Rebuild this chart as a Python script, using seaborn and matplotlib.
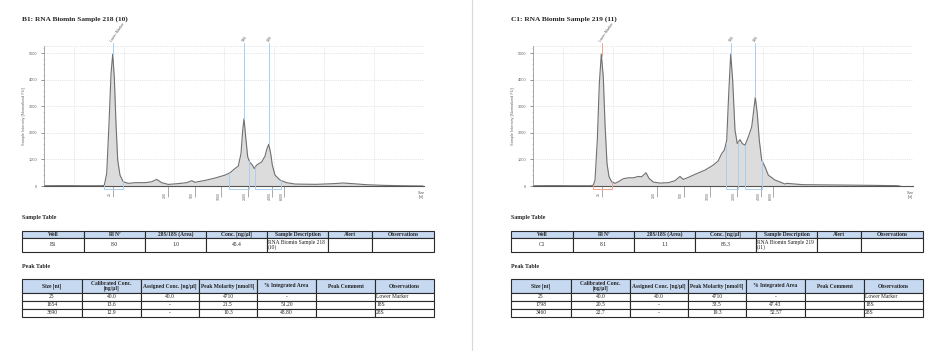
import matplotlib
matplotlib.use("Agg")
import matplotlib.pyplot as plt
import numpy as np
import seaborn as sns
from matplotlib.patches import Rectangle
from matplotlib.transforms import ScaledTranslation

# electropherogram traces: lane position vs intensity (normalized FU)
b1_pos = [0, 20, 40, 58, 60.3, 62.7, 65, 67, 68.7, 70.3, 72, 73.7, 76, 79.3, 84.3, 91, 101, 107.7,
          112.7, 117.7, 124.3, 134.3, 142.7, 147.7, 151, 161, 171, 181, 186, 191, 194.3, 197, 198.7,
          200, 201.7, 203.7, 206, 207.7, 210.3, 212.7, 217.7, 221, 223, 224.7, 226.7, 228.3, 231, 236,
          242.7, 251, 256, 272.4, 289, 299, 309, 322, 339, 356, 379]
b1_fu = [10, 15, 10, 10, 25, 475, 2350, 4225, 4975, 4100, 2350, 975, 410, 160, 100, 125, 125, 160,
         250, 125, 60, 90, 125, 200, 140, 210, 300, 410, 500, 660, 750, 1225, 2100,
         2540, 1850, 1100, 875, 825, 660, 790, 910, 1125, 1410, 1575, 1225, 790, 410, 225,
         125, 75, 70, 63, 88, 113, 88, 50, 25, 12, 0]

c1_pos = [0, 20, 40, 58, 60.3, 62, 64.3, 66.3, 68.3, 70.3, 72, 74, 76, 78.7, 82, 85.3, 90.3, 95.3,
          100.3, 105.3, 108.7, 113, 116, 120.3, 127, 135.3, 142, 147, 150.3, 155.3, 162, 172, 180.3,
          185.3, 188.7, 191.3, 193.7, 195.7, 197.7, 199.7, 202, 204.3, 207, 209.3, 212, 215.3, 218.7,
          220.7, 222.3, 224.3, 226.3, 228.7, 232, 235.3, 242, 252, 253.7, 270, 303.7, 337, 363.7, 367]
c1_fu = [10, 15, 10, 10, 30, 225, 1725, 3850, 4975, 4100, 2350, 850, 350, 160, 100, 160, 275, 310,
         310, 360, 350, 500, 290, 150, 110, 125, 200, 360, 250, 325, 440, 600, 790,
         950, 1225, 1350, 1725, 3475, 4975, 3975, 2100, 1600, 1750, 1600, 1540, 1850, 2225,
         2850, 3350, 2725, 1725, 975, 725, 410, 225, 75, 100, 50, 38, 25, 12, 0]

size_tick_pos = [68.7, 123.7, 150.7, 177, 203.7, 228.3, 240.3]
size_tick_labels = ['25', '200', '500', '1000', '2000', '4000', '6000']

peak_names = ['Lower Marker', '18S', '28S']
b1_peak_pos = [68.5, 200, 224.5]
c1_peak_pos = [68.5, 197.8, 222.3]
b1_regions = [(60, 79), (185.3, 205.3), (211.3, 236.7)]
c1_regions = [(59.7, 78.7), (193, 205.3), (211.8, 228.7)]

sample_cols = ['Well', 'RIN$^e$', '28S/18S (Area)', 'Conc. [ng/µl]', 'Sample Description', 'Alert', 'Observations']
b1_sample_row = ['B1', '8.0', '1.0', '45.4', 'RNA Biomin Sample 218\n(10)', '', '']
c1_sample_row = ['C1', '8.1', '1.1', '85.3', 'RNA Biomin Sample 219\n(11)', '', '']

peak_cols = ['Size [nt]', 'Calibrated Conc.\n[ng/µl]', 'Assigned Conc. [ng/µl]', 'Peak Molarity [nmol/l]',
             '% Integrated Area', 'Peak Comment', 'Observations']
b1_peak_rows = [['25', '40.0', '40.0', '4710', '-', '', 'Lower Marker'],
                ['1654', '13.6', '-', '21.5', '51.20', '', '18S'],
                ['3690', '12.9', '-', '10.3', '48.80', '', '28S']]
c1_peak_rows = [['25', '40.0', '40.0', '4710', '-', '', 'Lower Marker'],
                ['1798', '20.5', '-', '33.5', '47.43', '', '18S'],
                ['3460', '22.7', '-', '19.3', '52.57', '', '28S']]

sns.set_theme(style="white")
plt.rcParams['font.family'] = ['Liberation Serif', 'DejaVu Serif']
plt.rcParams['mathtext.fontset'] = 'stix'

W, H = 941, 351
YTOP = 5280
fig = plt.figure(figsize=(W / 100, H / 100), dpi=100)
bg = fig.add_axes([0, 0, 1, 1])
bg.set_xlim(0, W)
bg.set_ylim(H, 0)
bg.axis('off')
bg.plot([472, 472], [0, H], color='#d8d8d8', lw=0.8)

sans = ['Liberation Sans', 'DejaVu Sans']


def draw_table(x0, cols_x, rows_y, header, rows, left_cols):
    for r in range(len(rows_y) - 1):
        for c in range(len(cols_x) - 1):
            x, y = x0 + cols_x[c], rows_y[r]
            w, h = cols_x[c + 1] - cols_x[c], rows_y[r + 1] - rows_y[r]
            fc = '#c6d9f1' if r == 0 else 'white'
            bg.add_patch(Rectangle((x, y), w, h, facecolor=fc, edgecolor='#2a2a2a', lw=0.8))
            txt = header[c] if r == 0 else rows[r - 1][c]
            if r > 0 and c in left_cols:
                bg.text(x + 1, y + h / 2, txt, ha='left', va='center', fontsize=4,
                        linespacing=0.9, color='#222')
            else:
                bg.text(x + w / 2, y + h / 2, txt, ha='center', va='center', fontsize=4,
                        linespacing=0.9, color='#222', fontweight='bold' if r == 0 else 'normal')


def draw_page(x0, title, pos, fu, peaks, regions, lm_color, sample_row, peak_rows):
    bg.text(x0 + 22, 21, title, fontsize=5.3, fontweight='bold', va='baseline')
    bg.text(x0 + 22, 217, 'Sample Table', fontsize=4.3, fontweight='bold', va='center')
    bg.text(x0 + 22, 266, 'Peak Table', fontsize=4.3, fontweight='bold', va='center')
    bg.text(x0 + 421, 191, 'Size\n[nt]', fontsize=2.6, family=sans, color='#555',
            ha='center', va='top', linespacing=1.0)
    draw_table(x0, [22, 84, 145, 206, 267, 328, 372, 434], [231, 238, 252],
               sample_cols, [sample_row], [4])
    draw_table(x0, [22, 82, 141, 199, 257, 316, 375, 434], [279, 293, 301, 309, 317],
               peak_cols, peak_rows, [6])

    ax = fig.add_axes([(x0 + 44) / W, 1 - 186 / H, 380 / W, 140 / H])
    ax.set_facecolor('none')
    ax.set_xlim(0, 380)
    ax.set_ylim(0, YTOP)
    for gx in range(30, 381, 50):
        ax.plot([gx, gx], [0, YTOP], ls=(0, (2, 2)), color='#d0d0d0', lw=0.4, zorder=0)
    for gy in [1000, 2000, 3000, 4000, 5000, YTOP]:
        ax.plot([0, 380], [gy, gy], ls=(0, (2, 2)), color='#d0d0d0', lw=0.4, zorder=0, clip_on=False)

    ax.fill_between(pos, fu, color='#dcdcdc', lw=0, zorder=1)
    sns.lineplot(x=pos, y=fu, ax=ax, color='#707070', lw=0.8, zorder=2)

    for i, (a, b) in enumerate(regions):
        col = lm_color if i == 0 else '#a9cff2'
        ya, yb = np.interp(a, pos, fu), np.interp(b, pos, fu)
        ax.plot([a, a, b, b], [ya, -130, -130, yb], color=col, lw=0.7, clip_on=False, zorder=3)
    for i, (p, name) in enumerate(zip(peaks, peak_names)):
        col = lm_color if i == 0 else '#a9cff2'
        ax.plot([p, p], [np.interp(p, pos, fu), YTOP + 120], color=col, lw=0.7,
                clip_on=False, zorder=3)
        ax.text(p - 1, YTOP + 170, name, rotation=55, rotation_mode='anchor', ha='left',
                va='center', fontsize=2.6, family=sans, color='#555')

    sns.despine(ax=ax, top=True, right=True)
    ax.spines['left'].set_color('#999')
    ax.spines['left'].set_linewidth(0.6)
    ax.spines['bottom'].set_color('#555')
    ax.spines['bottom'].set_linewidth(0.8)
    ax.set_yticks(range(0, 5001, 1000))
    ax.set_yticks(range(0, 5281, 200), minor=True)
    ax.tick_params(axis='y', which='major', length=2, width=0.5, labelsize=2.8,
                   colors='#666', pad=3, left=True)
    ax.tick_params(axis='y', which='minor', length=1, width=0.4, color='#999', left=True)
    for lab in ax.get_yticklabels():
        lab.set_family(sans)
    ax.set_xticks(size_tick_pos)
    ax.set_xticklabels(size_tick_labels, rotation=90, fontsize=2.6, family=sans, color='#666')
    ax.tick_params(axis='x', length=8, width=0.5, color='#888', pad=-3.7, bottom=True)
    shift = ScaledTranslation(-2.5 / 100, 0, fig.dpi_scale_trans)
    for lab in ax.get_xticklabels():
        lab.set_transform(lab.get_transform() + shift)
    ax.set_xlabel('')
    ax.set_ylabel('Sample Intensity [Normalized FU]', fontsize=2.8, family=sans, color='#666')
    ax.yaxis.set_label_coords(-0.047, 0.5)


draw_page(0, 'B1: RNA Biomin Sample 218 (10)', b1_pos, b1_fu, b1_peak_pos, b1_regions,
          '#a9cff2', b1_sample_row, b1_peak_rows)
draw_page(489, 'C1: RNA Biomin Sample 219 (11)', c1_pos, c1_fu, c1_peak_pos, c1_regions,
          '#f3a48c', c1_sample_row, c1_peak_rows)

fig.savefig('out.png', dpi=100)
